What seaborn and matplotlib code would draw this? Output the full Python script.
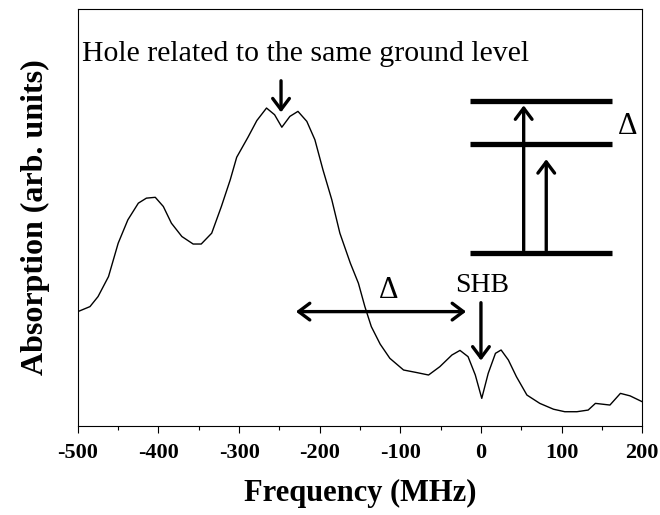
import matplotlib
matplotlib.use("Agg")
import matplotlib.pyplot as plt
import seaborn as sns
import pandas as pd

# spectrum (frequency in MHz, absorption in arb. units)
freq = [-500, -485, -475, -462, -450, -438, -425, -415, -404, -394, -384, -371,
        -357, -347, -334, -322, -311, -303, -289, -278, -266, -256, -247, -237,
        -227, -216, -206, -196, -185, -175, -162, -152, -144, -136, -125, -113,
        -96, -80, -65, -51, -36, -26, -16, -7, 1, 9, 18, 25, 34, 44, 57, 73,
        90, 104, 119, 133, 142, 160, 173, 185, 200]
absorb = [0.274, 0.286, 0.310, 0.358, 0.438, 0.494, 0.534, 0.546, 0.548, 0.526,
          0.486, 0.454, 0.436, 0.436, 0.462, 0.526, 0.590, 0.644, 0.692, 0.732,
          0.762, 0.746, 0.716, 0.742, 0.754, 0.730, 0.686, 0.614, 0.542, 0.462,
          0.390, 0.342, 0.286, 0.238, 0.196, 0.162, 0.134, 0.128, 0.122, 0.142,
          0.170, 0.181, 0.166, 0.122, 0.066, 0.126, 0.174, 0.182, 0.158, 0.118,
          0.074, 0.054, 0.040, 0.034, 0.034, 0.038, 0.054, 0.050, 0.078, 0.072,
          0.058]

xticks = [-500, -400, -300, -200, -100, 0, 100, 200]
levels_y = [0.779, 0.676, 0.414]
levels_x = (-14, 162)
hole_x = -248
shb_x = 0

df = pd.DataFrame({"Frequency": freq, "Absorption": absorb})

sns.set_style("ticks")
plt.rcParams["font.family"] = ["Liberation Serif", "DejaVu Serif"]
plt.rcParams["text.color"] = "black"
plt.rcParams["axes.labelcolor"] = "black"
plt.rcParams["xtick.color"] = "black"

fig = plt.figure(figsize=(6.6, 5.15), dpi=100)
ax = fig.add_axes([0.118, 0.173, 0.855, 0.81])

sns.lineplot(data=df, x="Frequency", y="Absorption", color="black", lw=1.0, ax=ax)

ax.set_xlim(-500, 200)
ax.set_ylim(0, 1)
ax.set_xticks(xticks)
ax.set_xticks(range(-450, 200, 100), minor=True)
ax.set_xticklabels([str(t) for t in xticks], fontsize=16, fontweight="bold")
ax.set_yticks([])
ax.tick_params(axis="x", which="major", direction="out", length=5, width=0.8, pad=7)
ax.tick_params(axis="x", which="minor", direction="out", length=3, width=0.8)
for s in ax.spines.values():
    s.set_visible(True)
    s.set_linewidth(0.8)
    s.set_color("black")

ax.set_xlabel("Frequency (MHz)", fontsize=22, fontweight="bold", labelpad=12)
ax.set_ylabel("Absorption (arb. units)", fontsize=23, fontweight="bold", labelpad=20)

arrow = dict(arrowstyle="->,head_length=0.8,head_width=0.6", lw=2.4, color="black")

# hole annotation
ax.text(-495, 0.874, "Hole related to the same ground level", fontsize=21.5,
        ha="left", va="baseline")
ax.annotate("", xy=(hole_x, 0.745), xytext=(hole_x, 0.834), arrowprops=arrow)

# delta double arrow
ax.annotate("", xy=(-233, 0.274), xytext=(-15, 0.274),
            arrowprops=dict(arrowstyle="<->,head_length=0.8,head_width=0.6",
                            lw=2.4, color="black"))
ax.text(-115, 0.307, "Δ", fontsize=22, ha="center", va="baseline")

# SHB arrow
ax.text(shb_x + 2, 0.321, "SHB", fontsize=20, ha="center", va="baseline")
ax.annotate("", xy=(shb_x, 0.150), xytext=(shb_x, 0.302), arrowprops=arrow)

# level diagram
for ly in levels_y:
    ax.plot(levels_x, [ly, ly], color="black", lw=3.8, solid_capstyle="butt")
ax.annotate("", xy=(53, 0.775), xytext=(53, levels_y[2]), arrowprops=arrow)
ax.annotate("", xy=(81, 0.646), xytext=(81, levels_y[2]), arrowprops=arrow)
ax.text(182, 0.700, "Δ", fontsize=22, ha="center", va="baseline")

fig.savefig("out.png", dpi=100)
